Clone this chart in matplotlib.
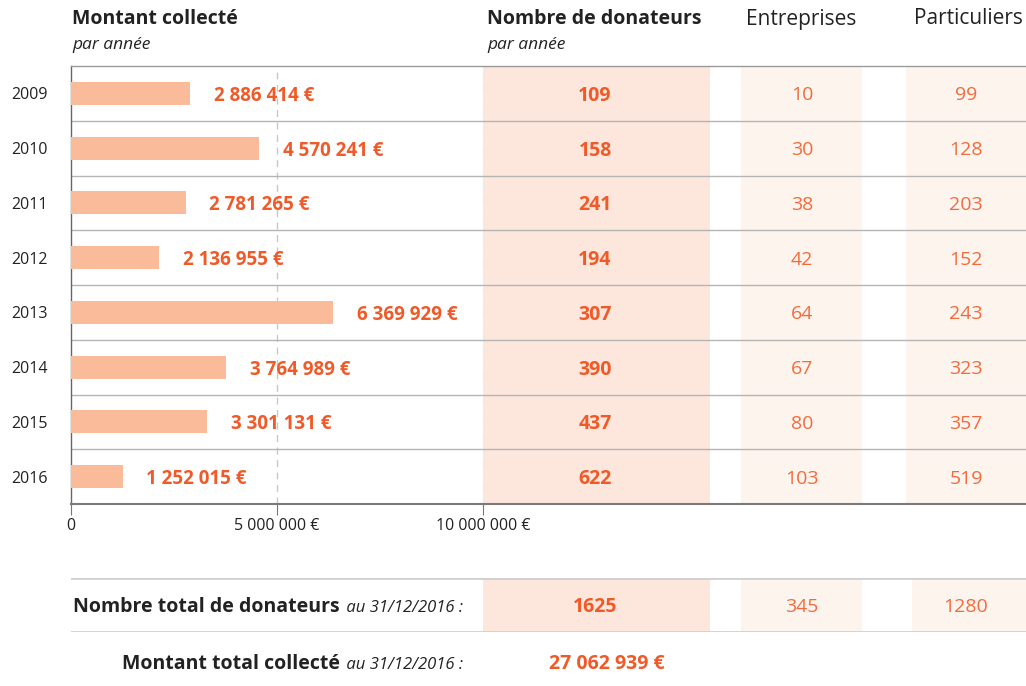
import matplotlib.pyplot as plt
import matplotlib.transforms as mtransforms

plt.rcParams['font.family'] = ['Open Sans', 'DejaVu Sans']

years = ['2009', '2010', '2011', '2012', '2013', '2014', '2015', '2016']
amounts = [2886414, 4570241, 2781265, 2136955, 6369929, 3764989, 3301131, 1252015]
donors = [109, 158, 241, 194, 307, 390, 437, 622]
companies = [10, 30, 38, 42, 64, 67, 80, 103]
individuals = [99, 128, 203, 152, 243, 323, 357, 519]
total_donors = [1625, 345, 1280]
total_amount = 27062939
xticks = [0, 5000000, 10000000]

ORANGE = '#f05a28'
ORANGE_LIGHT = '#f36b3c'
BAR = '#f9bb9a'
DARK = '#222222'
W, H = 1026, 686


def fmt(v):
    return f'{v:,}'.replace(',', ' ')


def fx(px):
    return px / W


def fy(py):
    return 1 - py / H


fig = plt.figure(figsize=(W / 100, H / 100), dpi=100)
ax = fig.add_axes([fx(71), fy(504), fx(1026) - fx(71), fy(66) - fy(504)])

eur_per_px = 5000000 / 206
pos = list(range(len(years)))
ax.barh(pos, amounts, height=0.42, color=BAR, zorder=3)
ax.set_xlim(0, 955 * eur_per_px)
ax.set_ylim(len(years) - 0.5, -0.5)

for p, v in zip(pos, amounts):
    ax.annotate(fmt(v) + ' €', (v, p), xytext=(17, 0), textcoords='offset points',
                ha='left', va='center_baseline', color=ORANGE, fontsize=13.5,
                fontweight='bold', zorder=4)

# shaded table columns
tr = mtransforms.blended_transform_factory(ax.transAxes, ax.transData)
col_spans = [(483, 710, '#fde6dc'), (741, 862, '#fef4ee'), (906, 1026, '#fef4ee')]
for x0, x1, c in col_spans:
    ax.axvspan((x0 - 71) * eur_per_px, (x1 - 71) * eur_per_px, color=c, zorder=0, lw=0)

col_x = [(595 - 71) / 955, (802 - 71) / 955, (966 - 71) / 955]
for p, a, b, c in zip(pos, donors, companies, individuals):
    ax.text(col_x[0], p, str(a), transform=tr, ha='center', va='center_baseline',
            color=ORANGE, fontsize=14, fontweight='bold')
    ax.text(col_x[1], p, str(b), transform=tr, ha='center', va='center_baseline',
            color=ORANGE_LIGHT, fontsize=14)
    ax.text(col_x[2], p, str(c), transform=tr, ha='center', va='center_baseline',
            color=ORANGE_LIGHT, fontsize=14)

for y in [p + 0.5 for p in pos[:-1]]:
    ax.axhline(y, color='#b5b5b5', lw=1, zorder=2)
ax.axvline(5000000, color='#c8c8c8', lw=1, ls=(0, (5, 4)), zorder=1)
ax.axvline(10000000, color='#ececec', lw=1, ls=(0, (5, 4)), zorder=1)

ax.set_yticks(pos)
ax.set_yticklabels(years, fontsize=11.5, color=DARK)
ax.tick_params(axis='y', length=0, pad=17)
ax.set_xticks(xticks)
ax.set_xticklabels([fmt(v) + ' €' if v else '0' for v in xticks], fontsize=11.5, color=DARK)
ax.tick_params(axis='x', length=8, color='#777777', pad=2)

ax.spines['right'].set_visible(False)
ax.spines['top'].set_color('#9a9a9a')
ax.spines['top'].set_linewidth(1)
ax.spines['bottom'].set_color('#7a7a7a')
ax.spines['bottom'].set_linewidth(1.5)
ax.spines['left'].set_color('#666666')
ax.spines['left'].set_linewidth(1)

# headers
fig.text(fx(72), fy(19), 'Montant collecté', ha='left', va='center', fontsize=14,
         fontweight='bold', color=DARK)
fig.text(fx(72), fy(45), 'par année', ha='left', va='center', fontsize=12.5,
         style='italic', color=DARK)
fig.text(fx(487), fy(19), 'Nombre de donateurs', ha='left', va='center', fontsize=14,
         fontweight='bold', color=DARK)
fig.text(fx(487), fy(45), 'par année', ha='left', va='center', fontsize=12.5,
         style='italic', color=DARK)
fig.text(fx(801), fy(19), 'Entreprises', ha='center', va='center', fontsize=15, color=DARK)
fig.text(fx(968), fy(19), 'Particuliers', ha='center', va='center', fontsize=15, color=DARK)

# totals row
ax2 = fig.add_axes([fx(71), fy(632), fx(1026) - fx(71), fy(578) - fy(632)])
ax2.set_xlim(71, 1026)
ax2.set_ylim(0, 1)
ax2.axis('off')
for x0, x1, c in [(483, 710, '#fde6dc'), (741, 862, '#fef4ee'), (912, 1026, '#fef4ee')]:
    ax2.axvspan(x0, x1, color=c, lw=0, zorder=0)
ax2.axhline(1, color='#d0d0d0', lw=2)
ax2.axhline(0, color='#d0d0d0', lw=2)
for cx, v, bold in zip([595, 802, 966], total_donors, [True, False, False]):
    ax2.text(cx, 0.5, str(v), ha='center', va='center_baseline', fontsize=14,
             fontweight='bold' if bold else 'normal',
             color=ORANGE if bold else ORANGE_LIGHT)

b1 = fig.text(fx(73), fy(606), 'Nombre total de donateurs', ha='left', va='baseline',
              fontsize=14, fontweight='bold', color=DARK)
b1.set_y(fy(612))
fig.text(fx(463), fy(612), ' au 31/12/2016 :', ha='right', va='baseline', fontsize=12,
         style='italic', color=DARK)
it2 = fig.text(fx(463), fy(669), ' au 31/12/2016 :', ha='right', va='baseline', fontsize=12,
               style='italic', color=DARK)
fig.text(fx(340), fy(669), 'Montant total collecté', ha='right', va='baseline', fontsize=14,
         fontweight='bold', color=DARK)
fig.text(fx(549), fy(669), fmt(total_amount) + ' €', ha='left', va='baseline', fontsize=14,
         fontweight='bold', color=ORANGE)

fig.savefig('out.png', dpi=100)
